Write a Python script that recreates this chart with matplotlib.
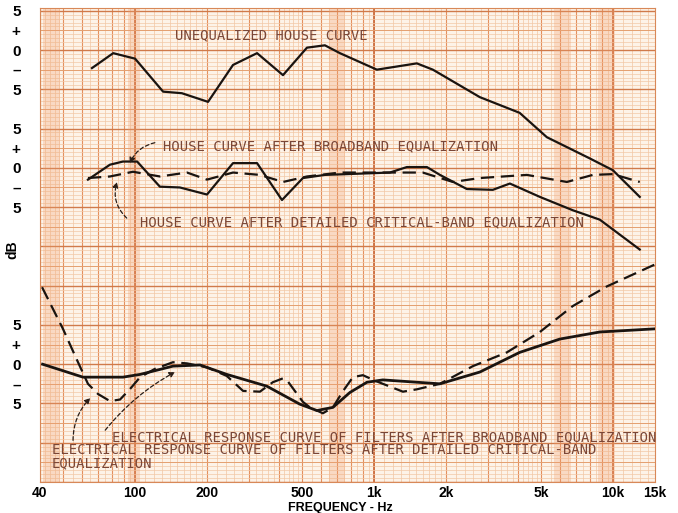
import numpy as np
import matplotlib.pyplot as plt

# Datos: frecuencia (Hz) y nivel (dB, relativo a la linea 0 de cada curva)
unequalized_f = [66, 81, 100, 131, 157, 202, 257, 324, 416, 524, 623, 720, 1028, 1511,
                 1763, 2773, 4070, 5290, 8000, 9990, 12950]
unequalized_db = [-2.3, -0.4, -1.1, -5.3, -5.5, -6.6, -1.9, -0.4, -3.2, 0.3, 0.6, -0.4, -2.5, -1.7,
                  -2.5, -6.0, -8.0, -11.1, -13.8, -15.3, -18.7]

broadband_f = [63.5, 78.5, 89, 102, 127, 154, 200, 257, 324, 412, 504, 623, 1165, 1373, 1665,
               1888, 2447, 3143, 3704, 4945, 6792, 8812, 12950]
broadband_db = [-1.5, 0.4, 0.8, 0.8, -2.4, -2.5, -3.4, 0.6, 0.6, -4.1, -1.3, -0.9, -0.6, 0.1, 0.1,
                -0.9, -2.7, -2.8, -2.0, -3.7, -5.4, -6.6, -10.4]

detailed_f = [63.5, 78.5, 98, 127, 165, 200, 257, 333, 416, 524, 720, 1600, 2139, 2773, 4364,
              6413, 8240, 9990, 12950]
detailed_db = [-1.3, -1.1, -0.5, -1.1, -0.6, -1.5, -0.6, -0.9, -1.8, -1.1, -0.6, -0.6, -1.8, -1.3, -0.9,
               -1.8, -0.9, -0.8, -1.8]

elec_broad_f = [41, 60.5, 89, 105, 144, 187, 242, 356, 490, 577, 673, 793, 934, 1089, 1888, 2773,
                4070, 5997, 8812, 15000]
elec_broad_db = [0, -1.65, -1.65, -1.3, -0.25, -0.1, -1.3, -2.8, -5.1, -5.9, -5.5, -3.6, -2.3, -2.0,
                 -2.5, -1.0, 1.5, 3.2, 4.1, 4.5]

elec_detail_f = [40.8, 49.9, 57, 63.5, 70, 78.5, 86.5, 95, 105, 121, 144, 165, 200, 242, 283, 333,
                 377, 416, 436, 504, 539, 611, 673, 741, 816, 898, 1028, 1321, 1511, 1888, 2593,
                 3597, 4945, 6792, 9429, 15000]
elec_detail_db = [9.8, 4.5, 0.6, -2.5, -3.8, -4.7, -4.5, -3.2, -1.65, -0.6, 0.25, 0.1, -0.4, -1.5,
                  -3.4, -3.5, -2.3, -1.8, -2.2, -4.8, -5.5, -6.25, -5.5, -3.45, -1.65, -1.4, -2.2,
                  -3.5, -3.2, -2.5, -0.25, 1.5, 4.1, 7.4, 9.9, 12.7]

# Desplazamiento vertical de cada grupo de curvas (dB)
offset_upper = 0
offset_middle = -15
offset_lower = -40

xtick_vals = [40, 100, 200, 500, 1000, 2000, 5000, 10000, 15000]
xtick_labels = ['40', '100', '200', '500', '1k', '2k', '5k', '10k', '15k']
ytick_labels = ['5', '+', '0', '–', '5']

fig = plt.figure(figsize=(6.78, 5.13), dpi=100)
ax = fig.add_axes([40 / 678, 1 - 482 / 513, 615 / 678, 474 / 513])
ax.set_xscale('log')
ax.set_xlim(40, 15000)
ax.set_ylim(-55.0, 5.35)
ax.set_facecolor('#fdf3e8')

# Papel milimetrado logaritmico
fine_x, mid_x, heavy_x = [], [], []
for dec in [10, 100, 1000, 10000]:
    for m in np.concatenate([np.arange(1, 2, 0.1), np.arange(2, 5, 0.2), np.arange(5, 10, 0.5)]):
        fine_x.append(m * dec)
    for m in range(2, 10):
        mid_x.append(m * dec)
    heavy_x.append(dec)
xt = ax.get_xaxis_transform()
ax.vlines(fine_x, 0, 1, transform=xt, color='#f2c6a2', lw=0.5, zorder=0)
ax.vlines(mid_x, 0, 1, transform=xt, color='#e4905e', lw=0.8, zorder=0)
ax.vlines(heavy_x, 0, 1, transform=xt, color='#c8602e', lw=1.2, zorder=0)

yt = ax.get_yaxis_transform()
ax.hlines(np.arange(-55, 5.5, 0.5), 0, 1, transform=yt, color='#f2c8a6', lw=0.5, zorder=0)
ax.hlines(np.arange(-55, 5.5, 2.5), 0, 1, transform=yt, color='#e4a070', lw=0.7, zorder=0)
ax.hlines(np.arange(-55, 5.5, 5), 0, 1, transform=yt, color='#d07a4a', lw=1.0, zorder=0)

# bandas del escaneo
for a, b in [(41, 48.5), (93, 105), (650, 755), (5680, 6690), (8700, 10250)]:
    ax.axvspan(a, b, color='#f0a070', alpha=0.3, lw=0, zorder=0)

# Curvas
ax.plot(unequalized_f, np.array(unequalized_db) + offset_upper, color='#1a1410', lw=1.6, zorder=3)
ax.plot(broadband_f, np.array(broadband_db) + offset_middle, color='#1a1410', lw=1.6, zorder=3)
ax.plot(detailed_f, np.array(detailed_db) + offset_middle, color='#1a1410', lw=1.6,
        dashes=(6, 3), zorder=3)
ax.plot(elec_broad_f, np.array(elec_broad_db) + offset_lower, color='#1a1410', lw=2.0, zorder=3)
ax.plot(elec_detail_f, np.array(elec_detail_db) + offset_lower, color='#1a1410', lw=1.6,
        dashes=(6, 3), zorder=3)

# Textos y flechas
txt_color = '#7a4636'
fnt = dict(family='DejaVu Sans Mono', fontsize=10, color=txt_color, va='center', ha='left')
ax.text(147, 1.9, 'UNEQUALIZED HOUSE CURVE', **fnt)
ax.text(131, -12.2, 'HOUSE CURVE AFTER BROADBAND EQUALIZATION', **fnt)
ax.text(105, -21.9, 'HOUSE CURVE AFTER DETAILED CRITICAL-BAND EQUALIZATION', **fnt)
ax.text(80, -49.3, 'ELECTRICAL RESPONSE CURVE OF FILTERS AFTER BROADBAND EQUALIZATION', **fnt)
ax.text(44.8, -51.8, 'ELECTRICAL RESPONSE CURVE OF FILTERS AFTER DETAILED CRITICAL-BAND\nEQUALIZATION',
        linespacing=0.9, **fnt)

arrow = dict(arrowstyle='-|>', color='#2a1e18', lw=0.9, linestyle=(0, (3, 2)),
             shrinkA=0, shrinkB=0, mutation_scale=8)
ax.annotate('', xy=(95, -14.4), xytext=(121, -11.8),
            arrowprops=dict(connectionstyle='arc3,rad=0.25', **arrow))
ax.annotate('', xy=(84, -16.8), xytext=(92.3, -21.4),
            arrowprops=dict(connectionstyle='arc3,rad=-0.3', **arrow))
ax.annotate('', xy=(147, -41.0), xytext=(75, -48.4),
            arrowprops=dict(connectionstyle='arc3,rad=-0.1', **arrow))
ax.annotate('', xy=(65, -44.3), xytext=(55, -49.7),
            arrowprops=dict(connectionstyle='arc3,rad=-0.2', **arrow))

# Ejes
yticks, ylabels = [], []
for off in [offset_upper, offset_middle, offset_lower]:
    yticks += [off + 5, off + 2.5, off, off - 2.5, off - 5]
    ylabels += ytick_labels
ax.set_yticks(yticks)
ax.set_yticklabels(ylabels, fontsize=11, fontweight='bold', family='Liberation Sans')
ax.set_xticks(xtick_vals)
ax.set_xticklabels(xtick_labels, fontsize=10, fontweight='bold', family='Liberation Sans')
ax.minorticks_off()
ax.tick_params(axis='y', length=0, pad=14)
ax.tick_params(axis='x', length=0, pad=3)
ax.set_xlabel('FREQUENCY - Hz', fontsize=9, fontweight='bold', family='Liberation Sans')
ax.xaxis.set_label_coords(0.488, -0.043)
ax.set_ylabel('dB', fontsize=10, fontweight='bold', family='Liberation Sans')
ax.yaxis.set_label_coords(-0.034, 0.49)
for s in ax.spines.values():
    s.set_color('#d88858')
    s.set_linewidth(0.8)

fig.savefig('out.png', dpi=100, facecolor='white')
